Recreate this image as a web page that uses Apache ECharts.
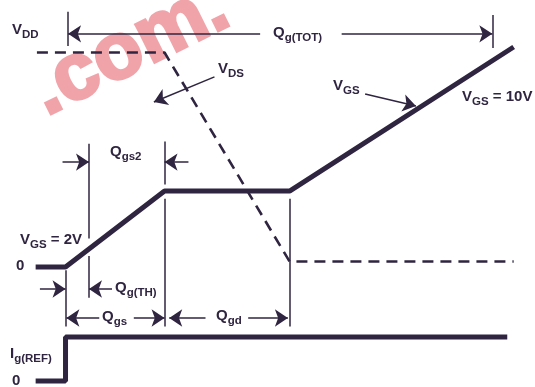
<!DOCTYPE html>
<html>
<head>
<meta charset="utf-8">
<script src="https://cdn.jsdelivr.net/npm/echarts@6/dist/echarts.min.js"></script>
<style>html,body{margin:0;background:#fff}#c{width:535px;height:387px}</style>
</head>
<body>
<div id="c"></div>
<script>
var ink = '#2f2540';

// gate charge breakpoints (schematic units)
var qStart = -7, qZero = 0, qTh = 5.5, qGs = 23.2, qGd = 52.5, qTot = 100, qEnd = 105, qIgEnd = 103.5;
var vPlateau = 3.45, vFinal = 10, vDD = 9.75, vOn = 0.25;

// VGS trace
var vgsQ = [qStart, qZero, qGs, qGd, qEnd];
var vgsV = [0, 0, vPlateau, vPlateau, vFinal];
// VDS trace (dashed)
var vdsQ = [-6.7, qGs, qGd, qEnd];
var vdsV = [vDD, vDD, vOn, vOn];
// gate current step
var igQ = [qStart, qZero, qZero, qIgEnd];
var igI = [0, 0, 1, 1];

// dimension lines: [q, v from, v to]
var dimLines = [
  [qZero, -0.15, -2.7],
  [qTh, 5.6, 1.3], [qTh, 0.5, -1.4],
  [qGs, 5.7, 3.75], [qGs, 3.1, -2.7],
  [qGd, 3.1, -2.7],
  [0.6, 11.6, 10.05],
  [qTot, 11.45, 9.95]
];
// arrows: [q tail, v tail, q tip, v tip]
var arrows = [
  [45.6, 10.6, 0.6, 10.6],
  [64.7, 10.6, qTot, 10.6],
  [-0.7, 4.77, qTh, 4.77],
  [28.8, 4.77, qGs, 4.77],
  [-6, -1.0, qZero, -1.0],
  [10.9, -1.0, qTh, -1.0],
  [7.9, -2.32, 0.2, -2.32],
  [16, -2.32, qGs, -2.32],
  [32.8, -2.32, 24.3, -2.32],
  [42.8, -2.32, 52.1, -2.32],
  [34.9, 8.64, 20.7, 7.5],
  [70.2, 7.86, 82.1, 7.32]
];

function pairs(xs, ys) {
  return xs.map(function (x, i) { return [x, ys[i]]; });
}

var mctx = document.createElement('canvas').getContext('2d');
// text with subscripts: parts = [[text, isSub], ...]
function label(x, y, parts) {
  var out = [], cx = x;
  parts.forEach(function (p) {
    var sub = p[1];
    var font = 'bold ' + (sub ? 11.5 : 15) + 'px "Liberation Sans", Arial, sans-serif';
    mctx.font = font;
    out.push({
      type: 'text', x: cx, y: y + (sub ? 5 : 0), silent: true, z: 10,
      style: { text: p[0], font: font, fill: ink, verticalAlign: 'middle' }
    });
    cx += mctx.measureText(p[0]).width;
  });
  return out;
}

var texts = [].concat(
  label(12, 30, [['V', 0], ['DD', 1]]),
  label(273, 33, [['Q', 0], ['g(TOT)', 1]]),
  label(218, 69, [['V', 0], ['DS', 1]]),
  label(333, 86, [['V', 0], ['GS', 1]]),
  label(462, 97, [['V', 0], ['GS', 1], [' = 10V', 0]]),
  label(110, 152, [['Q', 0], ['gs2', 1]]),
  label(20, 240, [['V', 0], ['GS', 1], [' = 2V', 0]]),
  label(16, 266, [['0', 0]]),
  label(115, 288, [['Q', 0], ['g(TH)', 1]]),
  label(102, 317, [['Q', 0], ['gs', 1]]),
  label(216, 316, [['Q', 0], ['gd', 1]]),
  label(10, 354, [['I', 0], ['g(REF)', 1]]),
  label(12, 381, [['0', 0]])
);

// faint site watermark behind the drawing
texts.push({
  type: 'text', x: 130, y: 50, rotation: 0.46, silent: true, z: -10,
  style: {
    text: '.com.', font: 'bold 80px "Liberation Sans", Arial, sans-serif',
    fill: '#f0a4a9', stroke: '#f0a4a9', lineWidth: 3,
    align: 'center', verticalAlign: 'middle'
  }
});

var chart = echarts.init(document.getElementById('c'));
chart.setOption({
  animation: false,
  grid: [
    { left: 1.5, width: 537.5, top: 3, height: 352 },
    { left: 1.5, width: 537.5, top: 332.6, height: 52.8 }
  ],
  xAxis: [
    { type: 'value', gridIndex: 0, min: -15, max: 110, show: false },
    { type: 'value', gridIndex: 1, min: -15, max: 110, show: false }
  ],
  yAxis: [
    { type: 'value', gridIndex: 0, min: -4, max: 12, show: false },
    { type: 'value', gridIndex: 1, min: -0.1, max: 1.1, show: false }
  ],
  graphic: texts,
  series: [
    {
      type: 'line', xAxisIndex: 0, yAxisIndex: 0, clip: false,
      data: pairs(vgsQ, vgsV), symbol: 'none',
      lineStyle: { color: ink, width: 5 }
    },
    {
      type: 'line', xAxisIndex: 0, yAxisIndex: 0, clip: false,
      data: pairs(vdsQ, vdsV), symbol: 'none',
      lineStyle: { color: ink, width: 2.6, type: [11, 7] }
    },
    {
      type: 'line', xAxisIndex: 1, yAxisIndex: 1, clip: false,
      data: pairs(igQ, igI), symbol: 'none',
      lineStyle: { color: ink, width: 5 }
    },
    {
      type: 'lines', coordinateSystem: 'cartesian2d', xAxisIndex: 0, yAxisIndex: 0,
      symbol: 'none', silent: true,
      lineStyle: { color: ink, width: 1.5, opacity: 1 },
      data: dimLines.map(function (d) { return { coords: [[d[0], d[1]], [d[0], d[2]]] }; })
    },
    {
      type: 'lines', coordinateSystem: 'cartesian2d', xAxisIndex: 0, yAxisIndex: 0,
      symbol: ['none', 'arrow'], symbolSize: 13, silent: true,
      lineStyle: { color: ink, width: 1.5, opacity: 1 },
      data: arrows.map(function (a) { return { coords: [[a[0], a[1]], [a[2], a[3]]] }; })
    }
  ]
});
</script>
</body>
</html>
